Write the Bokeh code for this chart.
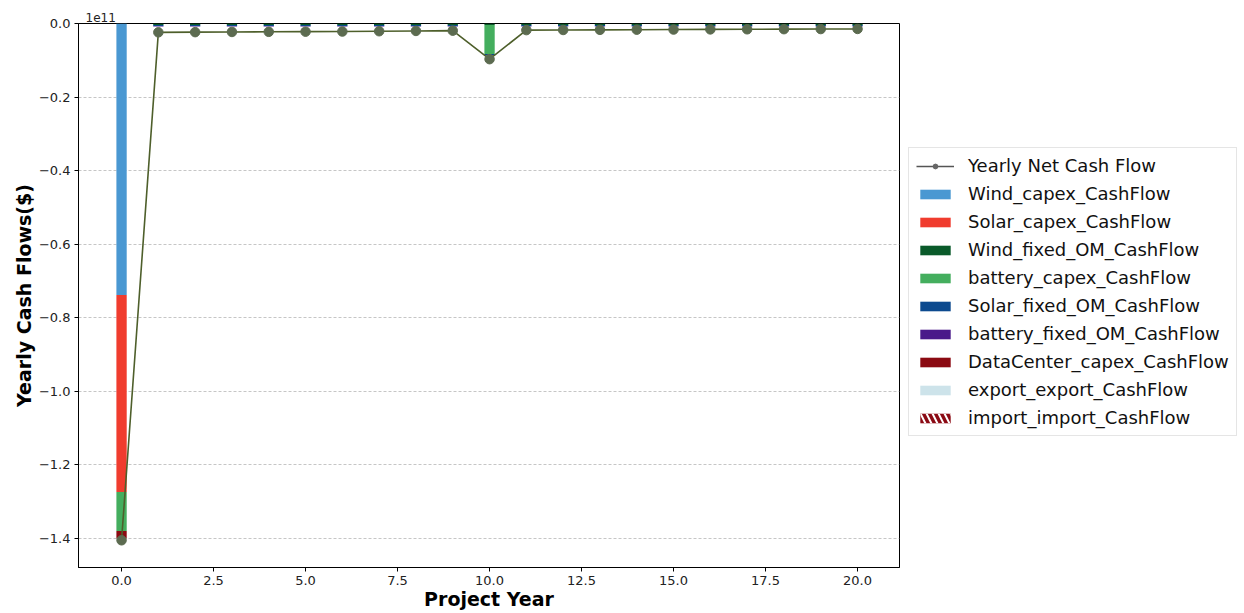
from bokeh.plotting import figure
from bokeh.layouts import row
from bokeh.models import (ColumnDataSource, Range1d, FixedTicker, CustomJSTickFormatter,
                          Legend, LegendItem, Title)
from bokeh.embed import file_html
from bokeh.resources import INLINE

# Project years and yearly cash flow components ($)
years = [0, 1, 2, 3, 4, 5, 6, 7, 8, 9, 10, 11, 12, 13, 14, 15, 16, 17, 18, 19, 20]

wind_capex = [-7.38e10, 0, 0, 0, 0, 0, 0, 0, 0, 0, 0, 0, 0, 0, 0, 0, 0, 0, 0, 0, 0]
solar_capex = [-5.36e10, 0, 0, 0, 0, 0, 0, 0, 0, 0, 0, 0, 0, 0, 0, 0, 0, 0, 0, 0, 0]
wind_fixed_om = [0, -4.0e8, -4.0e8, -4.0e8, -4.0e8, -4.0e8, -4.0e8, -4.0e8, -4.0e8, -4.0e8, -4.0e8,
                 -4.0e8, -4.0e8, -4.0e8, -4.0e8, -4.0e8, -4.0e8, -4.0e8, -4.0e8, -4.0e8, -4.0e8]
battery_capex = [-1.06e10, 0, 0, 0, 0, 0, 0, 0, 0, 0, -7.9e9, 0, 0, 0, 0, 0, 0, 0, 0, 0, 0]
solar_fixed_om = [0, -3.0e8, -3.0e8, -3.0e8, -3.0e8, -3.0e8, -3.0e8, -3.0e8, -3.0e8, -3.0e8, -3.0e8,
                  -3.0e8, -3.0e8, -3.0e8, -3.0e8, -3.0e8, -3.0e8, -3.0e8, -3.0e8, -3.0e8, -3.0e8]
battery_fixed_om = [0, -1.0e8, -1.0e8, -1.0e8, -1.0e8, -1.0e8, -1.0e8, -1.0e8, -1.0e8, -1.0e8, -1.0e8,
                    -1.0e8, -1.0e8, -1.0e8, -1.0e8, -1.0e8, -1.0e8, -1.0e8, -1.0e8, -1.0e8, -1.0e8]
datacenter_capex = [-2.0e9, 0, 0, 0, 0, 0, 0, 0, 0, 0, 0, 0, 0, 0, 0, 0, 0, 0, 0, 0, 0]
export_cf = [0, 0, 0, 0, 0, 0, 0, 0, 0, 0, 0, 0, 0, 0, 0, 0, 0, 0, 0, 0, 0]
import_cf = [0, 0, 0, 0, 0, 0, 0, 0, 0, 0, 0, 0, 0, 0, 0, 0, 0, 0, 0, 0, 0]

net_cash_flow = [-1.405e11, -2.40e9, -2.35e9, -2.30e9, -2.26e9, -2.22e9, -2.18e9, -2.10e9, -2.02e9,
                 -1.95e9, -9.70e9, -1.80e9, -1.76e9, -1.72e9, -1.68e9, -1.64e9, -1.60e9, -1.57e9,
                 -1.54e9, -1.51e9, -1.48e9]

series_names = ["Wind_capex_CashFlow", "Solar_capex_CashFlow", "Wind_fixed_OM_CashFlow",
                "battery_capex_CashFlow", "Solar_fixed_OM_CashFlow", "battery_fixed_OM_CashFlow",
                "DataCenter_capex_CashFlow", "export_export_CashFlow", "import_import_CashFlow"]
series_values = [wind_capex, solar_capex, wind_fixed_om, battery_capex, solar_fixed_om,
                 battery_fixed_om, datacenter_capex, export_cf, import_cf]
series_colors = ["#4a98d2", "#f03c2e", "#0a5a2a", "#44ae5e", "#0c4a8f", "#4a1a8a",
                 "#8b0a12", "#cde3ea", "#8b0a14"]

FONT = "DejaVu Sans"
LINE_COLOR = "#4e5f2b"
MARKER_COLOR = "#5c6b50"


def style_import(glyph):
    # hatched fill for the import component
    glyph.hatch_pattern = "\\"
    glyph.hatch_color = "white"
    glyph.hatch_scale = 12
    glyph.hatch_weight = 2


data = {"year": years, "net": net_cash_flow}
for name, vals in zip(series_names, series_values):
    data[name] = vals
source = ColumnDataSource(data)

p = figure(width=900, height=613, output_backend="svg", toolbar_location=None,
           x_range=Range1d(-1.17, 21.14), y_range=Range1d(-1.479e11, 0),
           min_border_left=78, min_border_top=23, min_border_bottom=46, min_border_right=1,
           background_fill_color="white", border_fill_color="white")

# offset label for the y scale, drawn as a small left-aligned title
p.title = Title(text="1e11", align="left", offset=7, text_font=FONT, text_font_size="12px",
                text_font_style="normal", text_color="#222222", standoff=4)

bars = p.vbar_stack(series_names, x="year", width=0.28, source=source,
                    color=series_colors, line_color=None, fill_alpha=1.0)
style_import(bars[-1].glyph)

p.line("year", "net", source=source, line_color=LINE_COLOR, line_width=1.6)
p.scatter("year", "net", source=source, size=9.5, fill_color=MARKER_COLOR, line_color=MARKER_COLOR)

# axes
p.xaxis.ticker = FixedTicker(ticks=[0, 2.5, 5, 7.5, 10, 12.5, 15, 17.5, 20])
p.xaxis.formatter = CustomJSTickFormatter(code="return tick.toFixed(1);")
p.yaxis.ticker = FixedTicker(ticks=[0, -2e10, -4e10, -6e10, -8e10, -1e11, -1.2e11, -1.4e11])
p.yaxis.formatter = CustomJSTickFormatter(
    code="var v = tick / 1e11; var s = Math.abs(v).toFixed(1); return (v < -1e-9 ? '\u2212' : '') + s;")

for ax in (p.xaxis[0], p.yaxis[0]):
    ax.axis_line_color = "black"
    ax.axis_line_width = 1
    ax.major_tick_line_color = "black"
    ax.major_tick_out = 4
    ax.major_tick_in = 0
    ax.minor_tick_line_color = None
    ax.major_label_text_font = FONT
    ax.major_label_text_font_size = "13px"
    ax.major_label_text_color = "#222222"
    ax.major_label_standoff = 4
    ax.axis_label_text_font = FONT
    ax.axis_label_text_font_style = "bold"
    ax.axis_label_text_font_size = "19px"
    ax.axis_label_text_color = "black"

p.xaxis.axis_label = "Project Year"
p.yaxis.axis_label = "Yearly Cash Flows($)"
p.xaxis.axis_label_standoff = 0
p.yaxis.axis_label_standoff = 1

p.xgrid.grid_line_color = None
p.ygrid.grid_line_color = "#b8b8b8"
p.ygrid.grid_line_dash = "3 2"
p.ygrid.grid_line_width = 0.8

p.outline_line_color = "black"
p.outline_line_width = 1

# legend panel to the right of the chart; its key glyphs sit off-range so only the keys show
lg = figure(width=344, height=613, output_backend="svg", toolbar_location=None,
            x_range=Range1d(0, 1), y_range=Range1d(0, 1),
            min_border=0, min_border_left=0, min_border_right=0,
            min_border_top=0, min_border_bottom=0,
            x_axis_type=None, y_axis_type=None,
            background_fill_color="white", border_fill_color="white")
lg.grid.visible = False
lg.outline_line_color = None

key_src = ColumnDataSource({"x": [5.0], "y": [5.0], "top": [6.0]})
key_line = lg.line("x", "y", source=key_src, line_color="#555555", line_width=1.6)
key_pts = lg.scatter("x", "y", source=key_src, size=7, fill_color="#666666", line_color="#666666")
items = [LegendItem(label="Yearly Net Cash Flow", renderers=[key_line, key_pts])]
for i, (name, col) in enumerate(zip(series_names, series_colors)):
    r = lg.vbar(x="x", top="top", bottom="y", width=0.3, source=key_src,
                fill_color=col, line_color=None)
    if i == len(series_names) - 1:
        style_import(r.glyph)
    items.append(LegendItem(label=name, renderers=[r]))

legend = Legend(items=items, location=(8, 131), label_text_font=FONT,
                label_text_font_size="18px", label_text_color="#111111",
                glyph_width=38, glyph_height=12, label_height=20, spacing=7,
                label_standoff=14, padding=7, margin=0,
                border_line_color="#cccccc", border_line_width=1,
                background_fill_color="white", background_fill_alpha=1.0)
lg.add_layout(legend, "center")

layout = row(p, lg)
open("out.html", "w").write(file_html(layout, INLINE))
